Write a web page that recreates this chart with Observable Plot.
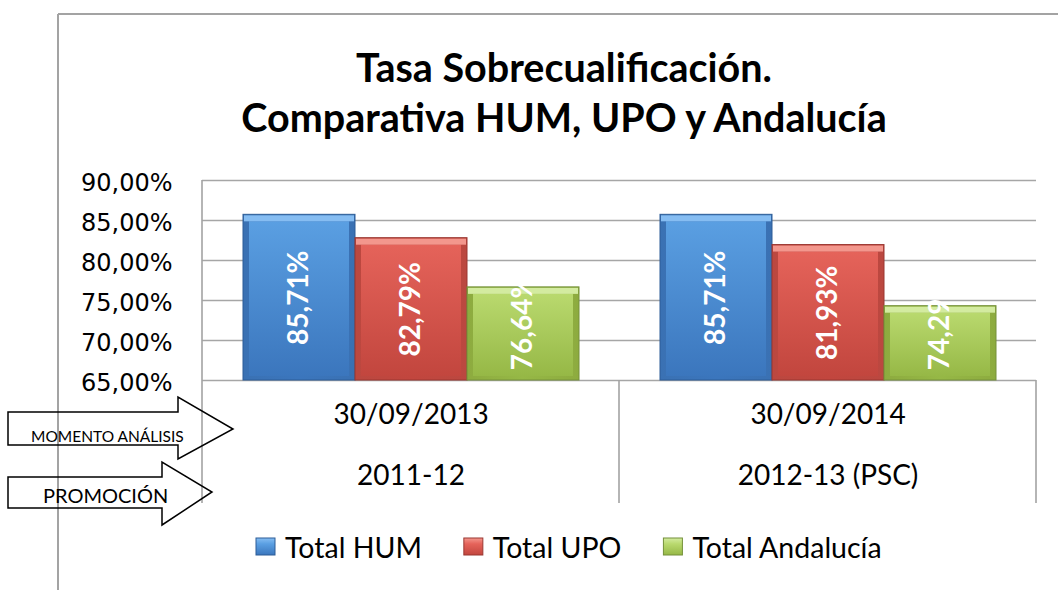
<!DOCTYPE html>
<html><head><meta charset="utf-8">
<script src="https://cdn.jsdelivr.net/npm/d3@7"></script>
<script src="https://cdn.jsdelivr.net/npm/@observablehq/plot@0.6"></script>
<style>
body{margin:0;background:#fff;}
#wrap{position:relative;width:1058px;height:590px;overflow:hidden;background:#fff;}
#wrap > svg{position:absolute;left:0;top:0;}
</style></head><body><div id="wrap"></div>
<script>
// ---- data ----
const titleLines = ["Tasa Sobrecualificación.", "Comparativa HUM, UPO y Andalucía"];
const dates = ["30/09/2013", "30/09/2014"];
const promociones = ["2011-12", "2012-13 (PSC)"];
const series = ["Total HUM", "Total UPO", "Total Andalucía"];
const hum = [85.71, 85.71];
const upo = [82.79, 81.93];
const andalucia = [76.64, 74.29];
const yTicks = [65, 70, 75, 80, 85, 90];
const rowLabels = ["MOMENTO ANÁLISIS", "PROMOCIÓN"];

const values = [hum, upo, andalucia];
const ids = ["hum", "upo", "and"];
const palette = [
  {f0:"#5a9fe2", f1:"#3b76bd", side:"#3a71b3", top:"#86bdf2", stroke:"#2c5d97"},
  {f0:"#e5635a", f1:"#c2463e", side:"#bb4840", top:"#f3978d", stroke:"#9a3731"},
  {f0:"#b9d96e", f1:"#96b846", side:"#8dab3f", top:"#d3eba0", stroke:"#74903a"}
];
const rows = dates.flatMap((d, i) => series.map((s, j) => ({date: d, series: s, k: j, value: values[j][i]})));
const fmt = v => v.toFixed(2).replace(".", ",") + "%";
const yMin = yTicks[0], yMax = yTicks[yTicks.length - 1];
const calibri = "Lato, 'Open Sans', sans-serif";

const barMarks = series.flatMap((s, j) => {
  const sub = rows.filter(r => r.k === j);
  return [
    Plot.barY(sub, {fx: "date", x: "series", y1: yMin, y2: "value", fill: `url(#side-${ids[j]})`, stroke: palette[j].stroke, strokeWidth: 1}),
    Plot.barY(sub, {fx: "date", x: "series", y1: yMin, y2: "value", fill: `url(#face-${ids[j]})`, insetLeft: 6, insetRight: 6, insetTop: 7, insetBottom: 4}),
    Plot.barY(sub, {fx: "date", x: "series", y1: "value", y2: "value", fill: palette[j].top, insetLeft: 1, insetRight: 1, insetTop: 1, insetBottom: -7})
  ];
});

const plot = Plot.plot({
  width: 1058, height: 590,
  marginLeft: 202, marginRight: 22, marginTop: 180, marginBottom: 210,
  style: {background: "transparent", color: "#000", overflow: "visible"},
  fx: {domain: dates, paddingInner: 0, paddingOuter: 0, axis: null, label: null},
  x: {domain: series, paddingInner: 0, paddingOuter: 0.36, axis: null},
  y: {domain: [yMin, yMax], axis: null},
  marks: [
    Plot.gridY(yTicks, {stroke: "#a6a6a6", strokeOpacity: 1, strokeWidth: 1.6}),
    Plot.axisY(yTicks, {tickSize: 0, tickPadding: 30, tickFormat: fmt, fontSize: 24, fontFamily: "DejaVu Sans", fill: "#000", dy: 3, label: null}),
    ...barMarks,
    Plot.text(rows, {fx: "date", x: "series",
      y: d => (d.value - yMin < 13 ? yMin + 7.2 : (d.value + yMin) / 2),
      text: d => fmt(d.value), rotate: -90, fill: "white", fontSize: 28, fontWeight: "bold", fontFamily: calibri}),
    Plot.text(dates, {fx: d => d, text: d => d, frameAnchor: "bottom", dy: 43, fontSize: 28, fontFamily: calibri, fill: "#000"}),
    Plot.text(dates.map((d, i) => ({date: d, promo: promociones[i]})), {fx: "date", text: "promo", frameAnchor: "bottom", dy: 104, fontSize: 28, fontFamily: calibri, fill: "#000"})
  ]
});

// gradients
const psvg = d3.select(plot);
psvg.selectAll('[aria-label="y-axis tick label"]').attr("font-family", "DejaVu Sans").selectAll("text").attr("font-family", "DejaVu Sans");
const defs = psvg.insert("defs", ":first-child");
palette.forEach((p, j) => {
  const g = defs.append("linearGradient").attr("id", `face-${ids[j]}`).attr("x1", 0).attr("y1", 0).attr("x2", 0).attr("y2", 1);
  g.append("stop").attr("offset", "0%").attr("stop-color", p.f0);
  g.append("stop").attr("offset", "100%").attr("stop-color", p.f1);
  const s = defs.append("linearGradient").attr("id", `side-${ids[j]}`).attr("x1", 0).attr("y1", 0).attr("x2", 1).attr("y2", 0);
  s.append("stop").attr("offset", "0%").attr("stop-color", p.side);
  s.append("stop").attr("offset", "50%").attr("stop-color", p.f1);
  s.append("stop").attr("offset", "100%").attr("stop-color", p.side);
});

const wrap = document.getElementById("wrap");
wrap.appendChild(plot);

// scales from the plot
const fxS = plot.scale("fx"), yS = plot.scale("y");
const bx = d3.scaleBand().domain(fxS.domain).range(fxS.range).paddingInner(fxS.paddingInner || 0).paddingOuter(fxS.paddingOuter || 0);
const yl = d3.scaleLinear().domain(yS.domain).range(yS.range);
const yBase = yl(yMin), yTop = yl(yMax), yCatBottom = yBase + 123;

const ov = d3.select(wrap).append("svg").attr("width", 1058).attr("height", 590).style("pointer-events", "none");
const lineC = "#a3a3a3";
// outer frame
ov.append("line").attr("x1", 58).attr("x2", 1058).attr("y1", 14).attr("y2", 14).attr("stroke", lineC).attr("stroke-width", 2);
ov.append("line").attr("x1", 58).attr("x2", 58).attr("y1", 14).attr("y2", 590).attr("stroke", lineC).attr("stroke-width", 2);
// y-axis line and category separators
const xLeft = bx(dates[0]);
ov.append("line").attr("x1", xLeft).attr("x2", xLeft).attr("y1", yTop).attr("y2", yBase).attr("stroke", lineC).attr("stroke-width", 1.6);
const bounds = dates.map(d => bx(d)).concat([bx(dates[dates.length - 1]) + bx.bandwidth()]);
bounds.forEach(x => ov.append("line").attr("x1", x).attr("x2", x).attr("y1", yBase).attr("y2", yCatBottom).attr("stroke", lineC).attr("stroke-width", 1.6));

// title
titleLines.forEach((t, i) => ov.append("text").attr("x", 564).attr("y", 82 + i * 50)
  .attr("text-anchor", "middle").attr("font-family", calibri).attr("font-weight", "bold").attr("font-size", 39.5).attr("fill", "#000").text(t));

// arrows
const arrows = [
  {pts: [[8,412],[178,412],[178,397],[233,429],[178,459],[178,445],[8,445]], tx: 31, ty: 442, fs: 15.5},
  {pts: [[8,477],[162,477],[162,462],[212,492],[162,525],[162,508],[8,508]], tx: 43, ty: 503, fs: 20}
];
arrows.forEach((a, i) => {
  ov.append("polygon").attr("points", a.pts.map(p => p.join(",")).join(" ")).attr("fill", "none").attr("stroke", "#000").attr("stroke-width", 1.5);
  ov.append("text").attr("x", a.tx).attr("y", a.ty).attr("font-family", calibri).attr("font-size", a.fs).attr("fill", "#000").text(rowLabels[i]);
});

// legend
const odefs = ov.append("defs");
palette.forEach((p, j) => {
  const g = odefs.append("linearGradient").attr("id", `lg-${ids[j]}`).attr("x1", 0).attr("y1", 0).attr("x2", 0).attr("y2", 1);
  g.append("stop").attr("offset", "0%").attr("stop-color", p.top);
  g.append("stop").attr("offset", "35%").attr("stop-color", p.f0);
  g.append("stop").attr("offset", "100%").attr("stop-color", p.f1);
});
let lx = 256;
series.forEach((s, j) => {
  ov.append("rect").attr("x", lx).attr("y", 538).attr("width", 19).attr("height", 17)
    .attr("fill", `url(#lg-${ids[j]})`).attr("stroke", palette[j].stroke).attr("stroke-width", 1);
  const t = ov.append("text").attr("x", lx + 29).attr("y", 558).attr("font-family", calibri).attr("font-size", 28.5).attr("fill", "#000").text(s);
  lx += 29 + t.node().getComputedTextLength() + 42;
});
</script></body></html>
